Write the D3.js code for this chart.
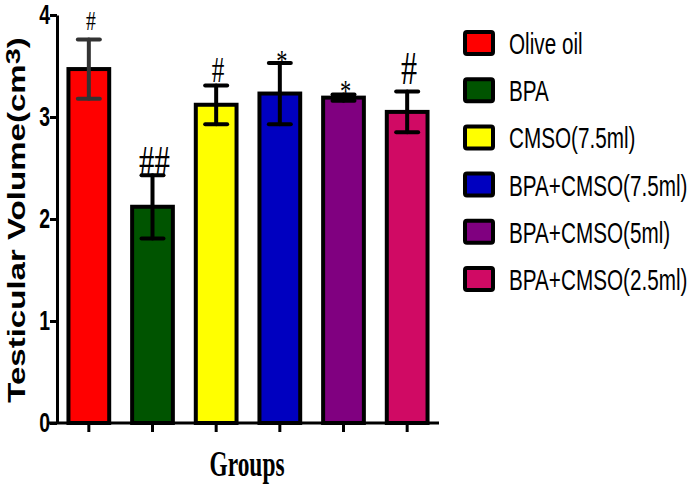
<!DOCTYPE html>
<html>
<head>
<meta charset="utf-8">
<script src="https://cdn.jsdelivr.net/npm/d3@7"></script>
<style>
  html, body { margin: 0; padding: 0; background: #fff; }
  svg { display: block; }
</style>
</head>
<body>
<svg id="chart" width="689" height="490"></svg>
<script>
// ---- data ----
const categories = ["Olive oil", "BPA", "CMSO(7.5ml)", "BPA+CMSO(7.5ml)", "BPA+CMSO(5ml)", "BPA+CMSO(2.5ml)"];
const means = [3.47, 2.12, 3.12, 3.23, 3.19, 3.05];
const errors = [0.29, 0.31, 0.19, 0.30, 0.03, 0.20];
const annotations = ["#", "##", "#", "*", "*", "#"];
const yTicks = [0, 1, 2, 3, 4];
const yTickLabels = ["0", "1", "2", "3", "4"];
const colors = ["#ff0000", "#005400", "#ffff00", "#0000c0", "#800080", "#d00a64"];

// ---- styles (not data) ----
const annoSize = [28, 44, 36, 32, 32, 46];
const annoGap = [9, -1, 3, -9, -7, 8];

const svg = d3.select("#chart");
const y = d3.scaleLinear().domain([0, 4]).range([423, 15]);
const x = d3.scaleBand().domain(categories).range([57, 439]).paddingInner(0.36).paddingOuter(0.18);

const rows = categories.map((c, i) => ({ c, m: means[i], e: errors[i], a: annotations[i], col: colors[i], i }));

// bars
svg.append("g").selectAll("rect").data(rows).join("rect")
  .attr("x", d => x(d.c))
  .attr("y", d => y(d.m))
  .attr("width", x.bandwidth())
  .attr("height", d => y(0) - y(d.m))
  .attr("fill", d => d.col)
  .attr("stroke", "#000")
  .attr("stroke-width", 4);

// error bars
const eb = svg.append("g").attr("stroke", "#000").attr("stroke-width", 4).attr("stroke-linecap", "round");
rows.forEach(d => {
  const cx = x(d.c) + x.bandwidth() / 2;
  const col = d.i === 0 ? "#333" : "#000";
  eb.append("line").attr("x1", cx).attr("x2", cx).attr("y1", y(d.m - d.e)).attr("y2", y(d.m + d.e)).attr("stroke", col);
  eb.append("line").attr("x1", cx - 11).attr("x2", cx + 11).attr("y1", y(d.m + d.e)).attr("y2", y(d.m + d.e)).attr("stroke", col);
  eb.append("line").attr("x1", cx - 11).attr("x2", cx + 11).attr("y1", y(d.m - d.e)).attr("y2", y(d.m - d.e)).attr("stroke", col);
});

// annotations
svg.append("g").selectAll("text").data(rows).join("text")
  .attr("transform", d => `translate(${x(d.c) + x.bandwidth() / 2 + 2},${y(d.m + d.e) - annoGap[d.i]}) scale(0.7,1)`)
  .attr("text-anchor", "middle")
  .attr("font-family", "'Liberation Serif', 'Times New Roman', serif")
  .attr("font-size", d => annoSize[d.i])
  .attr("fill", "#000")
  .text(d => d.a);

// y axis
const yAxis = svg.append("g").attr("transform", "translate(57,0)")
  .call(d3.axisLeft(y).tickValues(yTicks).tickSize(7).tickSizeOuter(0).tickFormat((d, i) => yTickLabels[i]));
yAxis.select(".domain").attr("stroke", "#000").attr("stroke-width", 3);
yAxis.selectAll(".tick line").attr("stroke", "#000").attr("stroke-width", 3);
yAxis.selectAll(".tick text")
  .attr("x", 0)
  .attr("transform", "translate(-7,0) scale(0.72,1)")
  .attr("font-family", "'Liberation Sans', Arial, sans-serif")
  .attr("font-weight", "bold")
  .attr("font-size", 27)
  .attr("fill", "#000");

// x axis
const xAxis = svg.append("g").attr("transform", `translate(0,${y(0)})`)
  .call(d3.axisBottom(x).tickSize(9).tickSizeOuter(0).tickFormat(""));
xAxis.select(".domain").remove();
xAxis.selectAll(".tick line").attr("stroke", "#000").attr("stroke-width", 3);
xAxis.append("line").attr("x1", 48).attr("x2", 439).attr("y1", 0).attr("y2", 0)
  .attr("stroke", "#000").attr("stroke-width", 3);

// x title
svg.append("text")
  .attr("transform", "translate(247,476) scale(0.65,1)")
  .attr("text-anchor", "middle")
  .attr("font-family", "'Liberation Serif', 'Times New Roman', serif")
  .attr("font-weight", "bold")
  .attr("font-size", 36)
  .attr("fill", "#000")
  .text("Groups");

// y title
const yg = svg.append("g").attr("transform", "translate(25,220) rotate(-90)");
const yt = yg.append("text")
  .attr("text-anchor", "middle")
  .attr("font-family", "'Liberation Sans', Arial, sans-serif")
  .attr("font-weight", "bold")
  .attr("font-size", 24)
  .attr("fill", "#000");
yt.append("tspan").text("Testicular Volume(cm");
yt.append("tspan").attr("dy", -5).attr("font-size", 21).text("3");
yt.append("tspan").attr("dy", 5).text(")");
const w = yt.node().getComputedTextLength();
yt.attr("transform", `scale(${366 / w},1)`);

// legend
const lg = svg.append("g");
rows.forEach((d, i) => {
  const cy = 43 + i * 47.2;
  lg.append("rect").attr("x", 465).attr("y", cy - 11).attr("width", 28).attr("height", 22)
    .attr("rx", 2).attr("fill", d.col).attr("stroke", "#000").attr("stroke-width", 4);
  lg.append("text")
    .attr("transform", `translate(509,${cy + 11}) scale(0.69,1)`)
    .attr("font-family", "'Liberation Sans', Arial, sans-serif")
    .attr("font-size", 30)
    .attr("fill", "#000")
    .text(d.c);
});
</script>
</body>
</html>
